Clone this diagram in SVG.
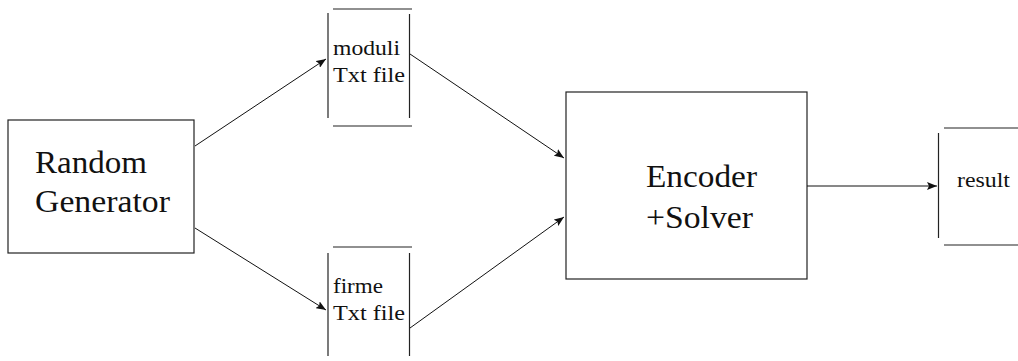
<svg xmlns="http://www.w3.org/2000/svg" width="1018" height="361" viewBox="0 0 1018 361">
  <style>
    .box { fill: #ffffff; stroke: #222222; stroke-width: 1.2; }
    .edge { stroke: #222222; stroke-width: 1.2; fill: none; }
    .wire { stroke: #111111; stroke-width: 1; fill: none; marker-end: url(#tip); }
    .big { font-family: "Liberation Serif", "Times New Roman", serif; font-size: 31px; fill: #111111; }
    .small { font-family: "Liberation Serif", "Times New Roman", serif; font-size: 21px; fill: #111111; }
  </style>
  <defs>
    <marker id="tip" viewBox="0 0 10 8" refX="10" refY="4" markerWidth="10" markerHeight="8" markerUnits="userSpaceOnUse" orient="auto">
      <path d="M0,0 L10,4 L0,8 L2,4 Z" fill="#111111"/>
    </marker>
  </defs>
  <rect width="1018" height="361" fill="#ffffff"/>

  <g id="random-generator">
    <rect class="box" x="8" y="120" width="186" height="133"/>
    <text class="big" x="35" y="173" textLength="112" lengthAdjust="spacingAndGlyphs">Random</text>
    <text class="big" x="35" y="212" textLength="135" lengthAdjust="spacingAndGlyphs">Generator</text>
  </g>

  <g id="moduli-file">
    <line class="edge" x1="333" y1="9" x2="412" y2="9"/>
    <line class="edge" x1="328" y1="13" x2="328" y2="118"/>
    <line class="edge" x1="409.5" y1="14" x2="409.5" y2="118"/>
    <line class="edge" x1="333" y1="126" x2="412" y2="126"/>
    <text class="small" x="333" y="55" textLength="67" lengthAdjust="spacingAndGlyphs">moduli</text>
    <text class="small" x="333" y="82" textLength="72" lengthAdjust="spacingAndGlyphs">Txt file</text>
  </g>

  <g id="firme-file">
    <line class="edge" x1="333" y1="247" x2="412" y2="247"/>
    <line class="edge" x1="328" y1="253" x2="328" y2="356"/>
    <line class="edge" x1="409.5" y1="253" x2="409.5" y2="356"/>
    <text class="small" x="333" y="293" textLength="50" lengthAdjust="spacingAndGlyphs">firme</text>
    <text class="small" x="333" y="320" textLength="72" lengthAdjust="spacingAndGlyphs">Txt file</text>
  </g>

  <g id="encoder-solver">
    <rect class="box" x="566" y="92" width="241" height="187"/>
    <text class="big" x="646" y="187" textLength="111" lengthAdjust="spacingAndGlyphs">Encoder</text>
    <text class="big" x="646" y="228" textLength="107" lengthAdjust="spacingAndGlyphs">+Solver</text>
  </g>

  <g id="result-file">
    <line class="edge" x1="944" y1="128" x2="1018" y2="128"/>
    <line class="edge" x1="938.5" y1="133" x2="938.5" y2="238"/>
    <line class="edge" x1="944" y1="245" x2="1018" y2="245"/>
    <text class="small" x="957" y="187" textLength="53" lengthAdjust="spacingAndGlyphs">result</text>
  </g>

  <g id="connectors">
    <line class="wire" x1="195" y1="146" x2="326" y2="59"/>
    <line class="wire" x1="195" y1="228" x2="326" y2="310"/>
    <line class="wire" x1="410" y1="54" x2="564" y2="158"/>
    <line class="wire" x1="410" y1="328" x2="564" y2="217"/>
    <line class="wire" x1="807" y1="186" x2="937" y2="186"/>
  </g>
</svg>
